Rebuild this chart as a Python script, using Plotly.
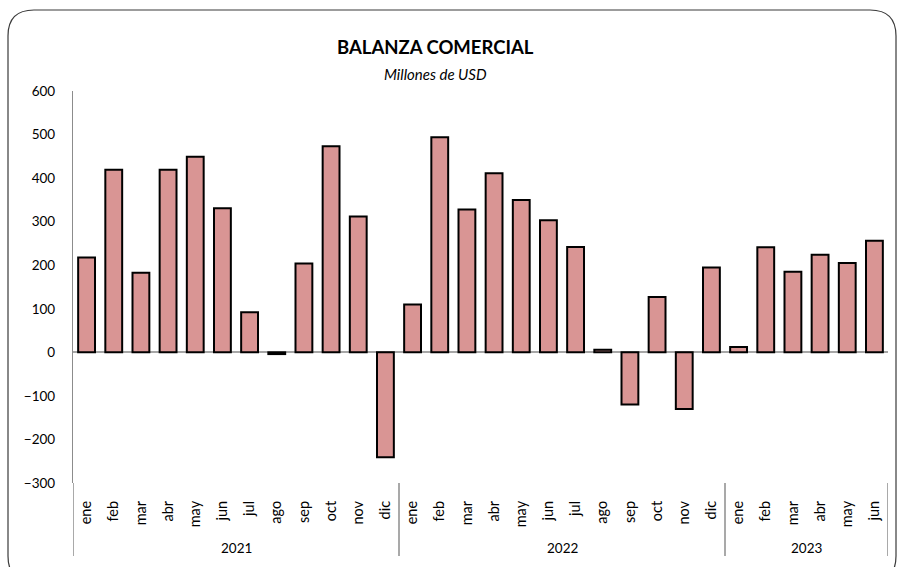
import plotly.graph_objects as go

months = ["ene", "feb", "mar", "abr", "may", "jun", "jul", "ago", "sep", "oct", "nov", "dic",
          "ene", "feb", "mar", "abr", "may", "jun", "jul", "ago", "sep", "oct", "nov", "dic",
          "ene", "feb", "mar", "abr", "may", "jun"]
years = ["2021", "2022", "2023"]
year_counts = [12, 12, 6]
values = [218, 419, 183, 419, 449, 331, 92, -4, 204, 473, 312, -241,
          110, 494, 328, 411, 350, 303, 242, 6, -120, 127, -130, 195,
          12, 241, 185, 224, 205, 256]

W, H = 899, 567
L, R, T, B = 73, 888, 91, 483

def px(x):
    return (x - L) / (R - L)

def py(y):
    return (B - y) / (B - T)

x = list(range(len(values)))

fig = go.Figure()
fig.add_trace(go.Bar(
    x=x, y=values,
    marker=dict(color="#D99594", line=dict(color="#000000", width=2)),
    width=0.62,
    hoverinfo="x+y",
))

FONT = "Lato, 'Open Sans', sans-serif"

shapes = []
pos = -0.5
divs = [pos]
for c in year_counts:
    pos += c
    divs.append(pos)
for d in divs:
    shapes.append(dict(type="line", xref="x", yref="paper", x0=d, x1=d,
                       y0=0, y1=py(556), line=dict(color="#8C8C8C", width=1.5)))

l0, t0, r0, b0, rad = 8, 10, 896, 582, 26
path = (f"M {px(l0)},{py(t0 + rad)} "
        f"Q {px(l0)},{py(t0)} {px(l0 + rad)},{py(t0)} "
        f"L {px(r0 - rad)},{py(t0)} "
        f"Q {px(r0)},{py(t0)} {px(r0)},{py(t0 + rad)} "
        f"L {px(r0)},{py(b0 - rad)} "
        f"Q {px(r0)},{py(b0)} {px(r0 - rad)},{py(b0)} "
        f"L {px(l0 + rad)},{py(b0)} "
        f"Q {px(l0)},{py(b0)} {px(l0)},{py(b0 - rad)} Z")
shapes.append(dict(type="path", xref="paper", yref="paper", path=path,
                   line=dict(color="#3A3A3A", width=1.2), layer="below"))

annotations = []
pos = -0.5
for yr, c in zip(years, year_counts):
    annotations.append(dict(x=pos + c / 2, y=py(548), xref="x", yref="paper",
                            xanchor="center", yanchor="middle",
                            text=yr, showarrow=False,
                            font=dict(family=FONT, size=13.5, color="#000000")))
    pos += c

annotations.append(dict(x=px(435), y=py(47), xref="paper", yref="paper",
                        xanchor="center", yanchor="middle",
                        text="<b>BALANZA COMERCIAL</b>", showarrow=False,
                        font=dict(family=FONT, size=18.5, color="#000000")))
annotations.append(dict(x=px(435), y=py(74), xref="paper", yref="paper",
                        xanchor="center", yanchor="middle",
                        text="<i>Millones de USD</i>", showarrow=False,
                        font=dict(family=FONT, size=15, color="#000000")))

fig.update_layout(
    width=W, height=H,
    margin=dict(l=L, r=W - R, t=T, b=H - B),
    paper_bgcolor="white", plot_bgcolor="white",
    showlegend=False,
    shapes=shapes,
    annotations=annotations,
    font=dict(family=FONT, size=13, color="#000000"),
    xaxis=dict(
        range=[-0.5, len(values) - 0.5],
        tickmode="array", tickvals=x, ticktext=months,
        tickangle=-90, showgrid=False, zeroline=False, showline=False,
        ticks="", ticklabelstandoff=14, tickfont=dict(family=FONT, size=14.5),
    ),
    yaxis=dict(
        range=[-300, 600], dtick=100, tickmode="linear", tick0=0,
        showgrid=False, zeroline=True, zerolinecolor="#A6A6A6", zerolinewidth=1.5,
        showline=True, linecolor="#8C8C8C", linewidth=1.2,
        ticks="", ticklabelstandoff=14, tickfont=dict(family=FONT, size=13.5),
    ),
    bargap=0.38,
)

fig.write_html("out.html", config={"displayModeBar": False},
               post_script="document.body.style.margin='0';document.body.style.overflow='hidden';")
